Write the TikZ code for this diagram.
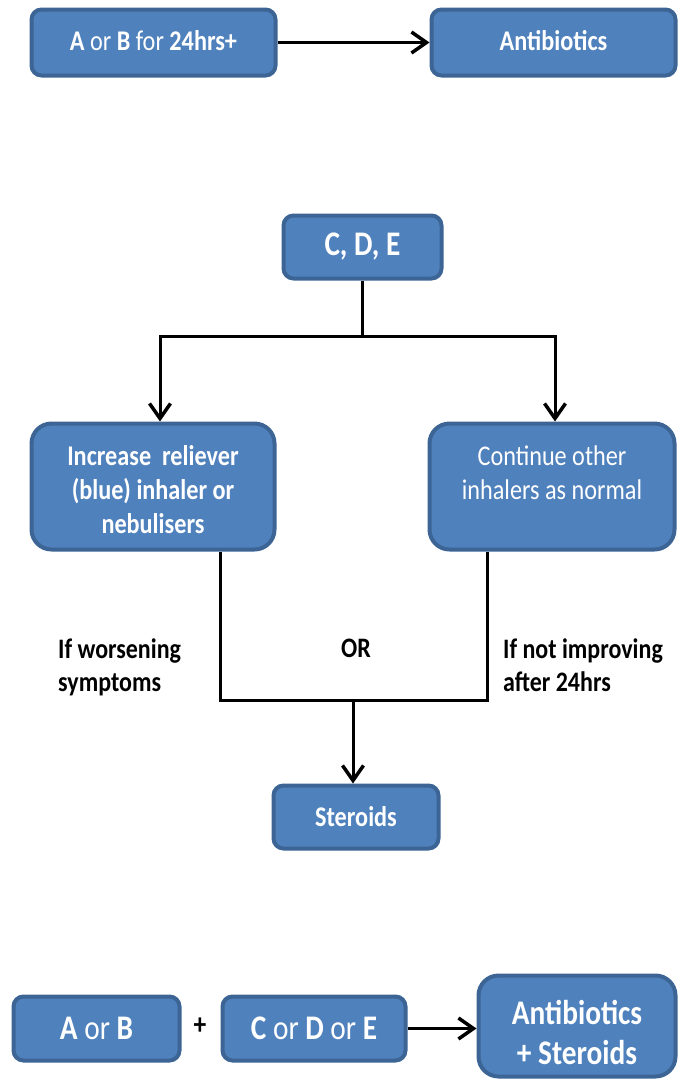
\documentclass[tikz,border=0pt]{standalone}
\usepackage{fontspec}
\setmainfont[FakeStretch=0.85]{Carlito}
\usetikzlibrary{arrows.meta}
\definecolor{boxc}{HTML}{4F81BD}
\definecolor{bordc}{HTML}{3C6494}
\newcommand{\dn}[1]{\rule{0pt}{#1}}
\begin{document}
\begin{tikzpicture}[x=1pt,y=-1pt,
  box/.style={draw=bordc, fill=boxc, line width=4pt, rounded corners=10pt, text=white, align=center, inner sep=0pt},
  bigbox/.style={box, rounded corners=20pt},
  fn/.style={font=\fontsize{28.5}{34}\selectfont},
  fnb/.style={font=\fontsize{28.5}{34}\selectfont\bfseries},
  flb/.style={font=\fontsize{34.5}{40}\selectfont\bfseries},
  fl/.style={font=\fontsize{34.5}{40}\selectfont},
  line/.style={line width=3pt},
  arr/.style={line width=3pt, -{Straight Barb[length=15pt,width=21pt,line width=3.5pt]}},
  lbl/.style={font=\fontsize{28.2}{33}\selectfont\bfseries, align=left, inner sep=0pt}]
\useasboundingbox (0,0) rectangle (680,1079);
% top row
\node[box, fn, minimum width=244pt, minimum height=66pt] (ab) at (153.5,42.5) {\textbf{A} or \textbf{B} for \textbf{24hrs+}\rule[-5pt]{0pt}{5pt}};
\node[box, fnb, minimum width=244pt, minimum height=66pt] (anti) at (553.5,42.5) {Antibiotics\rule[-5pt]{0pt}{5pt}};
\draw[arr] (ab.east) -- (anti.west);
% middle
\node[box, flb, minimum width=158pt, minimum height=63pt] (cde) at (362.5,247) {C, D, E};
\node[bigbox, fnb, minimum width=243pt, minimum height=126pt] (inc) at (153,486.5) {\dn{26pt}Increase\ \ reliever\\(blue) inhaler or\\nebulisers};
\node[bigbox, fn, minimum width=245pt, minimum height=126pt] (cont) at (552,486.5) {\dn{26pt}Continue other\\inhalers as normal\\\vphantom{nebulisers}};
\coordinate (jl) at (160,336);
\coordinate (jr) at (555,336);
\draw[arr] (cde.south) |- (jl) -- (jl |- inc.north);
\draw[arr] (cde.south) |- (jr) -- (jr |- cont.north);
\coordinate (bl) at (220,700);
\coordinate (br) at (487,700);
\coordinate (bm) at (353,700);
\node[box, fnb, minimum width=165pt, minimum height=63pt] (ster) at (356,817) {Steroids};
\draw[line] (bl |- inc.south) -- (bl) -- (br) -- (br |- cont.south);
\draw[arr] (bm) -- (bm |- ster.north);
\node[lbl, anchor=north west] (lw) at (58,639) {If worsening\\symptoms};
\node[lbl, anchor=north] (or) at (356,639) {OR};
\node[lbl, anchor=north west] (ln) at (503,639) {If not improving\\after 24hrs};
% bottom row
\node[box, fl, minimum width=166pt, minimum height=64pt] (ab2) at (96.5,1028.5) {\textbf{A} or \textbf{B}};
\node[font=\fontsize{30}{34}\selectfont\bfseries, inner sep=0pt] (plus) at (200,1026) {+};
\node[box, fl, minimum width=183pt, minimum height=64pt] (cde2) at (314,1028.5) {\textbf{C} or \textbf{D} or \textbf{E}};
\node[bigbox, flb, minimum width=197pt, minimum height=101pt] (as) at (577,1026) {\dn{38pt}Antibiotics\\+ Steroids};
\draw[arr] (cde2.east) -- (cde2.east -| as.west);
\end{tikzpicture}
\end{document}
